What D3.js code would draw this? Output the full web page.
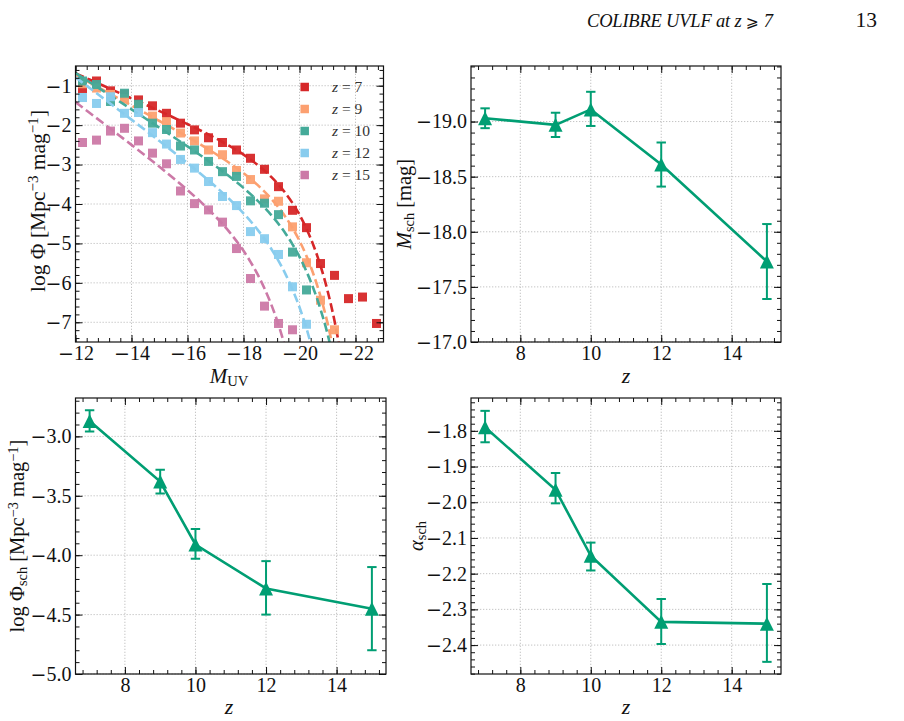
<!DOCTYPE html>
<html><head><meta charset="utf-8">
<script src="https://cdn.jsdelivr.net/npm/d3@7"></script>
<style>body{margin:0;background:#fff}svg{display:block}</style>
</head><body><svg id="c" width="904" height="721"></svg>
<script>
// ---------------- data ----------------
const redshifts = [7, 9, 10, 12, 15];
const seriesColors = ["#d62728", "#fca070", "#44aa99", "#88ccee", "#cc79a7"];
const magBins = [-12.25,-12.75,-13.25,-13.75,-14.25,-14.75,-15.25,-15.75,-16.25,-16.75,-17.25,-17.75,-18.25,-18.75,-19.25,-19.75,-20.25,-20.75,-21.25,-21.75,-22.25,-22.75];
const lfZ7  = [-1.07,-0.88,-1.13,-1.22,-1.36,-1.51,-1.70,-1.95,-2.12,-2.32,-2.44,-2.63,-2.84,-3.12,-3.56,-4.16,-4.60,-5.51,-5.81,-6.40,-6.36,-7.03];
const lfZ9  = [-0.95,-1.06,-1.22,-1.33,-1.50,-1.77,-1.91,-2.20,-2.40,-2.63,-2.75,-3.15,-3.38,-3.87,-3.93,-4.58,-5.49,-6.44,-7.19];
const lfZ10 = [-0.88,-0.97,-1.40,-1.19,-1.47,-1.95,-2.11,-2.53,-2.63,-2.92,-3.18,-3.30,-3.92,-3.98,-4.27,-5.22,-6.18];
const lfZ12 = [-1.30,-1.45,-1.28,-1.70,-1.68,-2.19,-2.48,-2.87,-3.09,-3.43,-3.81,-4.04,-4.70,-4.88,-5.28,-6.10,-7.05];
const lfZ15 = [-2.44,-2.38,-2.15,-2.08,-2.40,-2.71,-2.98,-3.67,-3.99,-4.15,-4.46,-5.13,-5.89,-6.59,-7.03,-7.19];

// best-fit Schechter curves
const fitMagZ7  = [-12,-12.5,-13,-13.5,-14,-14.5,-15,-15.5,-16,-16.5,-17,-17.5,-18,-18.5,-19,-19.5,-20,-20.25,-20.5,-20.75,-21,-21.25,-21.5];
const fitZ7     = [-0.685,-0.843,-1.002,-1.161,-1.320,-1.481,-1.643,-1.807,-1.975,-2.148,-2.331,-2.528,-2.748,-3.005,-3.319,-3.724,-4.273,-4.627,-5.052,-5.566,-6.194,-6.963,-7.911];
const fitMagZ9  = [-12,-12.5,-13,-13.5,-14,-14.5,-15,-15.5,-16,-16.5,-17,-17.5,-18,-18.5,-19,-19.5,-19.75,-20,-20.25,-20.5,-20.75,-21,-21.25];
const fitZ9     = [-0.726,-0.919,-1.113,-1.307,-1.502,-1.697,-1.895,-2.094,-2.298,-2.507,-2.726,-2.960,-3.219,-3.516,-3.874,-4.328,-4.608,-4.935,-5.322,-5.784,-6.340,-7.016,-7.842];
const fitMagZ10 = [-12,-12.5,-13,-13.5,-14,-14.5,-15,-15.5,-16,-16.5,-17,-17.5,-18,-18.5,-19,-19.5,-19.75,-20,-20.25,-20.5,-20.75,-21,-21.25];
const fitZ10    = [-0.676,-0.906,-1.137,-1.368,-1.599,-1.831,-2.065,-2.301,-2.540,-2.784,-3.037,-3.304,-3.591,-3.913,-4.288,-4.747,-5.023,-5.341,-5.711,-6.148,-6.667,-7.292,-8.048];
const fitMagZ12 = [-12,-12.5,-13,-13.5,-14,-14.5,-15,-15.5,-16,-16.5,-17,-17.5,-18,-18.5,-19,-19.25,-19.5,-19.75,-20,-20.25,-20.5];
const fitZ12    = [-0.787,-1.055,-1.323,-1.591,-1.860,-2.131,-2.404,-2.680,-2.961,-3.251,-3.555,-3.879,-4.238,-4.650,-5.146,-5.441,-5.777,-6.166,-6.620,-7.158,-7.802];
const fitMagZ15 = [-12,-12.5,-13,-13.5,-14,-14.5,-15,-15.5,-16,-16.5,-17,-17.5,-18,-18.25,-18.5,-18.75,-19,-19.25,-19.5];
const fitZ15    = [-1.417,-1.686,-1.956,-2.227,-2.500,-2.777,-3.058,-3.346,-3.647,-3.966,-4.316,-4.714,-5.187,-5.466,-5.781,-6.144,-6.565,-7.062,-7.652];

// Schechter parameters vs redshift
const paramZ    = [7, 9, 10, 12, 15];
const mSch      = [-19.03, -18.97, -19.11, -18.61, -17.73];
const mSchLow   = [-19.12, -19.08, -19.27, -18.81, -18.07];
const mSchHigh  = [-18.94, -18.86, -18.96, -18.41, -17.39];
const logPhi    = [-2.87, -3.38, -3.91, -4.28, -4.45];
const logPhiLow = [-2.96, -3.48, -4.03, -4.50, -4.80];
const logPhiHigh= [-2.78, -3.28, -3.78, -4.05, -4.10];
const alphaSch  = [-1.79, -1.965, -2.15, -2.335, -2.34];
const alphaLow  = [-1.832, -2.003, -2.191, -2.397, -2.447];
const alphaHigh = [-1.744, -1.918, -2.113, -2.271, -2.229];

// tick labels
const magTicks   = [-12, -14, -16, -18, -20, -22];
const lfTicks    = [-1, -2, -3, -4, -5, -6, -7];
const zTicks     = [8, 10, 12, 14];
const mSchTicks  = [-19.0, -18.5, -18.0, -17.5, -17.0];
const phiTicks   = [-3.0, -3.5, -4.0, -4.5, -5.0];
const alphaTicks = [-1.8, -1.9, -2.0, -2.1, -2.2, -2.3, -2.4];

// ---------------- drawing ----------------
const svg = d3.select("#c");
const serif = "'Liberation Serif','Times New Roman',serif";
const ink = "#111";
const green = "#009e73";
const FS = 20;

function minorTicks(domain, step, anchor) {
  const lo = Math.min(...domain), hi = Math.max(...domain);
  const out = [];
  const k0 = Math.ceil((lo - anchor) / step - 1e-9), k1 = Math.floor((hi - anchor) / step + 1e-9);
  for (let k = k0; k <= k1; k++) out.push(+(anchor + k * step).toFixed(6));
  return out;
}

let clipId = 0;
function makePanel(cfg) {
  const g = svg.append("g");
  const [xl, xr] = cfg.x.range();
  const [yb, yt] = cfg.y.range();
  const grid = g.append("g").attr("stroke", "#b0b0b0").attr("stroke-width", 0.75).attr("stroke-dasharray", "1.3,1.7");
  grid.selectAll("line.gx").data(cfg.xMajor).join("line").attr("class", "gx")
    .attr("x1", d => cfg.x(d)).attr("x2", d => cfg.x(d)).attr("y1", yb).attr("y2", yt);
  grid.selectAll("line.gy").data(cfg.yMajor).join("line").attr("class", "gy")
    .attr("y1", d => cfg.y(d)).attr("y2", d => cfg.y(d)).attr("x1", xl).attr("x2", xr);
  const id = "clip" + (clipId++);
  svg.append("clipPath").attr("id", id).append("rect")
    .attr("x", xl).attr("y", yt).attr("width", xr - xl).attr("height", yb - yt);
  const data = g.append("g").attr("clip-path", `url(#${id})`);
  return { g, data, xl, xr, yb, yt };
}

// tick labels: magnitude from the format, with a wide (math-style) minus sign for negatives
function signedLabels(sel, fmt) {
  sel.selectAll(".tick text").each(function (d) {
    const s = d3.select(this);
    s.text("");
    if (d < 0) s.append("tspan").attr("font-family", "'DejaVu Serif',serif").attr("font-size", FS * 0.95).text("\u2212");
    s.append("tspan").text(fmt(Math.abs(d)));
  });
}

function finishPanel(p, cfg) {
  const g = p.g.append("g");
  const style = (sel, fmt) => {
    sel.select(".domain").remove();
    sel.attr("font-family", serif).attr("font-size", FS);
    sel.selectAll("line").attr("stroke", ink).attr("stroke-width", 1);
    sel.selectAll("text").attr("fill", ink);
    if (fmt) signedLabels(sel, fmt);
  };
  const xMinor = minorTicks(cfg.x.domain(), cfg.xMinorStep, cfg.xMajor[0]);
  const yMinor = minorTicks(cfg.y.domain(), cfg.yMinorStep, cfg.yMajor[0]);
  const none = () => "";
  g.append("g").attr("transform", `translate(0,${p.yb})`).call(d3.axisBottom(cfg.x).tickValues(xMinor).tickSize(-4).tickSizeOuter(0).tickFormat(none)).call(style);
  g.append("g").attr("transform", `translate(0,${p.yb})`).call(d3.axisBottom(cfg.x).tickValues(cfg.xMajor).tickSize(-7).tickSizeOuter(0).tickPadding(3.5).tickFormat(cfg.xFmt)).call(style, cfg.xFmt);
  g.append("g").attr("transform", `translate(0,${p.yt})`).call(d3.axisTop(cfg.x).tickValues(xMinor).tickSize(-4).tickSizeOuter(0).tickFormat(none)).call(style);
  g.append("g").attr("transform", `translate(0,${p.yt})`).call(d3.axisTop(cfg.x).tickValues(cfg.xMajor).tickSize(-7).tickSizeOuter(0).tickFormat(none)).call(style);
  g.append("g").attr("transform", `translate(${p.xl},0)`).call(d3.axisLeft(cfg.y).tickValues(yMinor).tickSize(-4).tickSizeOuter(0).tickFormat(none)).call(style);
  g.append("g").attr("transform", `translate(${p.xl},0)`).call(d3.axisLeft(cfg.y).tickValues(cfg.yMajor).tickSize(-7).tickSizeOuter(0).tickPadding(4).tickFormat(cfg.yFmt)).call(style, cfg.yFmt);
  g.append("g").attr("transform", `translate(${p.xr},0)`).call(d3.axisRight(cfg.y).tickValues(yMinor).tickSize(-4).tickSizeOuter(0).tickFormat(none)).call(style);
  g.append("g").attr("transform", `translate(${p.xr},0)`).call(d3.axisRight(cfg.y).tickValues(cfg.yMajor).tickSize(-7).tickSizeOuter(0).tickFormat(none)).call(style);
  g.append("rect").attr("x", p.xl).attr("y", p.yt).attr("width", p.xr - p.xl).attr("height", p.yb - p.yt)
    .attr("fill", "none").attr("stroke", ink).attr("stroke-width", 1.2);
}

// rich text: parts = [{t, it, sub, sup}]
function rich(parent, parts, fs) {
  const t = parent.append("text").attr("font-family", serif).attr("font-size", fs).attr("fill", ink);
  parts.forEach(p => {
    const s = t.append("tspan").text(p.t);
    if (p.it) s.attr("font-style", "italic");
    if (p.sub) s.attr("font-size", fs * 0.7).attr("baseline-shift", "-22%");
    if (p.sup) s.attr("font-size", fs * 0.7).attr("baseline-shift", "45%");
  });
  return t;
}
function xLabel(parts, cx, baseline, fs) {
  const g = svg.append("g").attr("transform", `translate(${cx},${baseline})`);
  rich(g, parts, fs).attr("text-anchor", "middle");
}
function yLabel(parts, cx, cy, fs) {
  const g = svg.append("g").attr("transform", `translate(${cx + fs * 0.33},${cy}) rotate(-90)`);
  rich(g, parts, fs).attr("text-anchor", "middle");
}

const intFmt = d3.format("d");
const oneFmt = d3.format(".1f");

// ---------- Panel 1: UV luminosity functions ----------
{
  const cfg = {
    x: d3.scaleLinear([-12, -23], [75.5, 383.5]),
    y: d3.scaleLinear([-7.5, -0.5], [342, 66]),
    xMajor: magTicks, yMajor: lfTicks, xMinorStep: 0.4, yMinorStep: 0.2,
    xFmt: intFmt, yFmt: intFmt
  };
  const p = makePanel(cfg);
  const lfs = [lfZ7, lfZ9, lfZ10, lfZ12, lfZ15];
  const fitM = [fitMagZ7, fitMagZ9, fitMagZ10, fitMagZ12, fitMagZ15];
  const fitV = [fitZ7, fitZ9, fitZ10, fitZ12, fitZ15];
  const sq = 9;
  const line = d3.line().x(d => cfg.x(d[0])).y(d => cfg.y(d[1])).curve(d3.curveMonotoneX);
  redshifts.forEach((z, i) => {
    const pts = lfs[i].map((v, j) => [magBins[j], v]);
    p.data.append("g").selectAll("rect").data(pts).join("rect")
      .attr("x", d => cfg.x(d[0]) - sq / 2).attr("y", d => cfg.y(d[1]) - sq / 2)
      .attr("width", sq).attr("height", sq).attr("fill", seriesColors[i]).attr("opacity", 0.95);
    const curve = fitM[i].map((m, j) => [m, fitV[i][j]]);
    p.data.append("path").datum(curve).attr("d", line).attr("fill", "none")
      .attr("stroke", seriesColors[i]).attr("stroke-width", 2.6).attr("stroke-dasharray", "9,4");
  });
  // legend
  const lg = p.g.append("g");
  redshifts.forEach((z, i) => {
    const ly = 87 + i * 22;
    lg.append("rect").attr("x", 304.7 - 4.25).attr("y", ly - 4.25).attr("width", 8.5).attr("height", 8.5).attr("fill", seriesColors[i]);
    const t = lg.append("text").attr("x", 332).attr("y", ly + 5).attr("font-family", serif).attr("font-size", 15.5).attr("fill", "#333");
    t.append("tspan").attr("font-style", "italic").text("z");
    t.append("tspan").text(" = " + z);
  });
  finishPanel(p, cfg);
  xLabel([{ t: "M", it: true }, { t: "UV", sub: true }], 229, 383, 21);
  yLabel([{ t: "log Φ [Mpc" }, { t: "−3", sup: true }, { t: " mag" }, { t: "−1", sup: true }, { t: "]" }], 38, 201, 21.5);
}

function paramPanel(cfg, vals, lows, highs) {
  const p = makePanel(cfg);
  const pts = paramZ.map((z, i) => ({ z, v: vals[i], lo: lows[i], hi: highs[i] }));
  p.data.append("path").datum(pts)
    .attr("d", d3.line().x(d => cfg.x(d.z)).y(d => cfg.y(d.v)))
    .attr("fill", "none").attr("stroke", green).attr("stroke-width", 2.6);
  const eb = p.data.append("g").attr("stroke", green).attr("stroke-width", 2);
  eb.selectAll("line.v").data(pts).join("line").attr("class", "v")
    .attr("x1", d => cfg.x(d.z)).attr("x2", d => cfg.x(d.z)).attr("y1", d => cfg.y(d.lo)).attr("y2", d => cfg.y(d.hi));
  ["lo", "hi"].forEach(k => {
    eb.selectAll("line." + k).data(pts).join("line").attr("class", k)
      .attr("x1", d => cfg.x(d.z) - 4.7).attr("x2", d => cfg.x(d.z) + 4.7)
      .attr("y1", d => cfg.y(d[k])).attr("y2", d => cfg.y(d[k]));
  });
  const tri = { draw(ctx, size) { const s = Math.sqrt(size); ctx.moveTo(0, -s / 2); ctx.lineTo(s / 2, s / 2); ctx.lineTo(-s / 2, s / 2); ctx.closePath(); } };
  p.data.selectAll("path.m").data(pts).join("path").attr("class", "m")
    .attr("transform", d => `translate(${cfg.x(d.z)},${cfg.y(d.v)})`)
    .attr("d", d3.symbol(tri, 14 * 14)).attr("fill", green);
  finishPanel(p, cfg);
  return p;
}

// ---------- Panel 2: M_sch ----------
paramPanel({
  x: d3.scaleLinear([6.6, 15.4], [471, 781]),
  y: d3.scaleLinear([-17, -19.504], [342, 66]),
  xMajor: zTicks, yMajor: mSchTicks, xMinorStep: 0.4, yMinorStep: 0.1,
  xFmt: intFmt, yFmt: oneFmt
}, mSch, mSchLow, mSchHigh);
xLabel([{ t: "z", it: true }], 626, 383, 22);
yLabel([{ t: "M", it: true }, { t: "sch", sub: true }, { t: " [mag]" }], 404, 204, 20.5);

// ---------- Panel 3: log Phi_sch ----------
paramPanel({
  x: d3.scaleLinear([6.6, 15.4], [75.5, 386]),
  y: d3.scaleLinear([-5, -2.677], [674, 398]),
  xMajor: zTicks, yMajor: phiTicks, xMinorStep: 0.4, yMinorStep: 0.1,
  xFmt: intFmt, yFmt: oneFmt
}, logPhi, logPhiLow, logPhiHigh);
xLabel([{ t: "z", it: true }], 229, 714, 22);
yLabel([{ t: "log Φ" }, { t: "sch", sub: true }, { t: " [Mpc" }, { t: "−3", sup: true }, { t: " mag" }, { t: "−1", sup: true }, { t: "]" }], 17, 536, 20.5);

// ---------- Panel 4: alpha_sch ----------
paramPanel({
  x: d3.scaleLinear([6.6, 15.4], [471, 781]),
  y: d3.scaleLinear([-2.481, -1.708], [674, 398]),
  xMajor: zTicks, yMajor: alphaTicks, xMinorStep: 0.4, yMinorStep: 0.02,
  xFmt: intFmt, yFmt: oneFmt
}, alphaSch, alphaLow, alphaHigh);
xLabel([{ t: "z", it: true }], 626, 714, 22);
yLabel([{ t: "α", it: true }, { t: "sch", sub: true }], 416, 536, 20.5);

// ---------- page header ----------
const hd = svg.append("text").attr("x", 587).attr("y", 27).attr("font-family", serif).attr("font-size", 18.5)
  .attr("letter-spacing", -0.2).attr("fill", ink);
hd.append("tspan").attr("font-style", "italic").text("COLIBRE UVLF at ");
hd.append("tspan").attr("font-style", "italic").text("z");
hd.append("tspan").attr("font-family", "'DejaVu Serif','DejaVu Sans',serif").attr("font-size", 15.5).text(" ⩾ ");
hd.append("tspan").attr("font-style", "italic").text("7");
svg.append("text").attr("x", 877).attr("y", 27).attr("text-anchor", "end").attr("font-family", serif).attr("font-size", 21.5).attr("fill", ink).text("13");
</script>
</body></html>
